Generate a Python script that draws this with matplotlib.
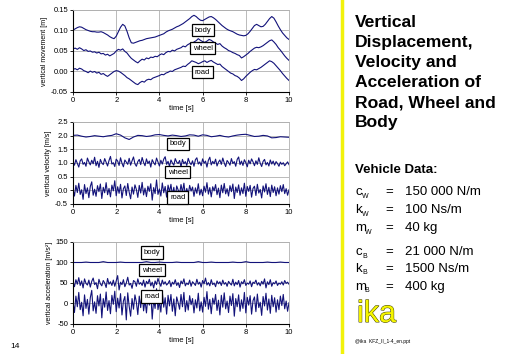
import matplotlib.pyplot as plt
import matplotlib.patheffects as pe
import numpy as np

plt.rcParams['font.family'] = ['Liberation Sans', 'DejaVu Sans']

# vertical displacement [m], sampled every 0.1 s
body_disp = [0.101, 0.104, 0.107, 0.109, 0.108, 0.105, 0.102, 0.100, 0.098, 0.097,
             0.097, 0.096, 0.096, 0.097, 0.095, 0.092, 0.089, 0.085, 0.082, 0.080,
             0.086, 0.097, 0.108, 0.115, 0.111, 0.098, 0.082, 0.070, 0.069, 0.071,
             0.073, 0.075, 0.076, 0.078, 0.080, 0.081, 0.082, 0.083, 0.084, 0.086,
             0.088, 0.090, 0.092, 0.096, 0.099, 0.101, 0.103, 0.106, 0.109, 0.111,
             0.114, 0.117, 0.121, 0.125, 0.129, 0.134, 0.137, 0.134, 0.129, 0.125,
             0.124, 0.127, 0.130, 0.133, 0.134, 0.131, 0.127, 0.122, 0.117, 0.112,
             0.108, 0.104, 0.101, 0.099, 0.097, 0.094, 0.091, 0.089, 0.088, 0.087,
             0.088, 0.092, 0.098, 0.105, 0.112, 0.115, 0.112, 0.109, 0.110, 0.115,
             0.122, 0.129, 0.134, 0.130, 0.121, 0.111, 0.102, 0.094, 0.088, 0.082,
             0.078]
wheel_disp = [0.055, 0.057, 0.054, 0.058, 0.055, 0.051, 0.053, 0.049, 0.050, 0.047,
              0.048, 0.045, 0.047, 0.043, 0.044, 0.040, 0.042, 0.038, 0.041, 0.044,
              0.050, 0.054, 0.052, 0.055, 0.049, 0.045, 0.038, 0.032, 0.028, 0.024,
              0.021, 0.026, 0.030, 0.028, 0.033, 0.031, 0.035, 0.034, 0.037, 0.036,
              0.040, 0.043, 0.041, 0.046, 0.049, 0.048, 0.052, 0.050, 0.054, 0.056,
              0.058, 0.062, 0.060, 0.065, 0.068, 0.067, 0.072, 0.075, 0.080, 0.076,
              0.073, 0.071, 0.074, 0.078, 0.076, 0.072, 0.069, 0.066, 0.068, 0.062,
              0.058, 0.055, 0.051, 0.049, 0.046, 0.044, 0.041, 0.039, 0.033, 0.036,
              0.040, 0.044, 0.049, 0.053, 0.057, 0.059, 0.058, 0.060, 0.063, 0.067,
              0.071, 0.075, 0.077, 0.072, 0.066, 0.058, 0.052, 0.045, 0.038, 0.032,
              0.027]
road_disp = [0.005, 0.007, 0.004, 0.008, 0.006, 0.002, 0.000, -0.003, 0.001, -0.002,
             0.000, -0.004, -0.002, -0.007, -0.005, -0.009, -0.012, -0.008, -0.004, 0.000,
             0.002, 0.001, -0.002, -0.006, -0.010, -0.015, -0.018, -0.022, -0.026, -0.030,
             -0.032, -0.027, -0.024, -0.026, -0.021, -0.019, -0.020, -0.016, -0.014, -0.012,
             -0.010, -0.007, -0.008, -0.004, -0.002, 0.001, 0.000, 0.004, 0.006, 0.008,
             0.010, 0.013, 0.012, 0.017, 0.021, 0.026, 0.024, 0.022, 0.019, 0.021,
             0.024, 0.026, 0.022, 0.025, 0.027, 0.023, 0.020, 0.017, 0.018, 0.012,
             0.008, 0.004, 0.000, -0.004, -0.006, -0.010, -0.012, -0.016, -0.022, -0.018,
             -0.012, -0.007, -0.002, 0.002, 0.005, 0.004, 0.007, 0.010, 0.014, 0.018,
             0.022, 0.026, 0.024, 0.020, 0.014, 0.008, 0.002, -0.005, -0.011, -0.017,
             -0.022]

# vertical velocity [m/s] (curves shifted for display)
body_vel = [2.01, 2.02, 1.98, 1.95, 1.97, 2.00, 1.98, 1.96, 1.99, 2.01,
            2.07, 2.02, 1.92, 1.86, 1.95, 2.01, 2.00, 1.97, 1.99, 2.03,
            2.04, 2.01, 1.99, 2.02, 2.00, 1.97, 1.99, 2.03, 2.02, 1.98,
            2.03, 2.01, 1.96, 1.98, 2.01, 1.97, 1.95, 1.99, 2.02, 2.04,
            2.05, 2.01, 1.97, 1.98, 2.01, 1.99, 1.92, 1.93, 1.96, 1.95, 1.94]
wheel_vel = [1.05, 0.92, 1.12, 0.98, 0.85, 1.08, 1.15, 0.95, 1.02, 0.88, 1.18, 1.04, 0.93, 1.10, 0.97, 1.21, 0.90, 1.06, 0.84, 1.13,
             1.00, 0.94, 1.16, 1.03, 0.89, 1.09, 1.24, 0.96, 1.01, 0.87, 1.14, 1.07, 0.91, 1.19, 0.99, 0.86, 1.11, 1.03, 0.95, 1.17,
             0.92, 1.08, 1.22, 0.97, 0.88, 1.05, 1.13, 0.94, 1.20, 1.02, 0.90, 1.15, 0.98, 1.07, 0.85, 1.12, 1.01, 0.93, 1.18, 1.04,
             0.89, 1.10, 0.96, 1.14, 1.23, 0.95, 1.06, 0.87, 1.11, 1.00, 0.92, 1.16, 1.03, 0.98, 1.09, 0.86, 1.13, 0.97, 1.05, 0.91,
             1.17, 1.02, 0.94, 1.08, 0.88, 1.12, 1.19, 0.96, 1.04, 0.90, 1.15, 0.99, 1.07, 0.85, 1.10, 1.21, 0.93, 1.06, 0.97, 1.14,
             0.89, 1.03, 1.11, 0.95, 1.18, 1.00, 0.87, 1.09, 1.02, 0.92, 1.16, 0.98, 1.05, 0.88, 1.13, 1.22, 0.94, 1.07, 0.91, 1.12,
             1.01, 0.86, 1.10, 0.97, 1.15, 1.04, 0.90, 1.08, 0.95, 1.19, 0.99, 0.87, 1.06, 1.13, 0.93, 1.02, 0.89, 1.11, 0.96, 1.07,
             0.92, 1.05, 0.98, 0.88, 1.03, 0.95, 1.01, 0.90, 0.97, 1.04, 0.94]
road_vel = [0.05, -0.21, 0.18, -0.08, 0.26, -0.15, 0.02, -0.33, 0.21, -0.12, 0.09, -0.27, 0.14, 0.31, -0.18, 0.04, -0.22, 0.17, -0.05, 0.23,
            -0.30, 0.11, -0.09, 0.28, -0.16, 0.07, -0.24, 0.19, -0.02, 0.35, -0.20, 0.13, -0.11, 0.22, -0.28, 0.06, 0.16, -0.19, 0.25, -0.07,
            -0.31, 0.12, -0.14, 0.20, 0.03, -0.26, 0.18, -0.10, 0.29, -0.17, 0.08, -0.23, 0.15, -0.04, 0.24, -0.36, 0.10, -0.12, 0.38, -0.15,
            0.05, -0.21, 0.27, -0.09, 0.14, -0.25, 0.19, -0.06, 0.22, -0.18, 0.11, -0.29, 0.16, 0.02, -0.13, 0.21, -0.08, 0.26, -0.19, 0.07,
            -0.15, 0.18, -0.03, 0.12, -0.22, 0.09, -0.11, 0.24, -0.17, 0.04, -0.20, 0.15, -0.07, 0.28, -0.14, 0.10, -0.24, 0.13, -0.02, 0.21,
            -0.16, 0.08, -0.27, 0.19, -0.09, 0.25, -0.13, 0.06, -0.21, 0.17, -0.05, 0.23, -0.30, 0.12, -0.08, 0.20, -0.18, 0.09, -0.12, 0.26,
            -0.22, 0.14, -0.04, 0.18, -0.25, 0.07, 0.15, -0.19, 0.22, -0.10, 0.03, -0.28, 0.16, -0.06, 0.24, -0.15, 0.11, -0.23, 0.19, -0.08,
            0.13, -0.20, 0.09, -0.14, 0.17, -0.05, 0.21, -0.12, 0.06, -0.18, 0.02]

# vertical acceleration [m/s^2] (curves shifted for display)
body_acc = [100, 100, 100, 101, 100, 100, 100, 102, 100, 100,
            100, 101, 100, 100, 100, 100, 100, 102, 100, 100,
            101, 100, 100, 100, 101, 100, 100, 100, 100, 102,
            100, 100, 101, 100, 100, 100, 100, 101, 100, 100,
            102, 100, 100, 100, 100, 101, 100, 100, 101, 100, 100]
wheel_acc = [52, 41, 58, 47, 63, 44, 55, 38, 60, 49, 45, 57, 40, 54, 62, 46, 51, 36, 59, 48,
             43, 56, 50, 39, 61, 47, 53, 44, 57, 42, 55, 68, 33, 52, 46, 58, 41, 50, 64, 45,
             49, 37, 56, 53, 42, 60, 47, 51, 44, 57, 40, 54, 48, 59, 43, 52, 38, 55, 46, 61,
             50, 42, 57, 47, 53, 45, 49, 56, 41, 52, 47, 58, 44, 51, 39, 55, 48, 60, 43, 50,
             46, 57, 42, 53, 49, 44, 59, 47, 52, 40, 56, 48, 62, 45, 51, 43, 58, 46, 50, 41,
             55, 48, 53, 44, 57, 47, 51, 42, 54, 49, 45, 59, 43, 52, 46, 56, 40, 53, 48, 58,
             44, 50, 47, 55, 41, 52, 49, 57, 45, 51, 43, 54, 47, 60, 38, 53, 46, 58, 42, 51,
             48, 55, 44, 50, 47, 53, 45, 56, 49, 52, 47]
road_acc = [5, -22, 18, -8, 27, -15, 3, -30, 21, -12, 10, -26, 14, 32, -18, 4, -24, 19, -6, 23,
            -35, 12, -9, 28, -17, 7, -25, 20, -2, 30, -20, 13, -11, 24, -28, 6, 17, -40, 26, -7,
            -31, 12, -14, 21, 3, -27, 18, -10, 29, -18, 8, -23, 16, -4, 25, -38, 10, -12, 36, -15,
            5, -21, 28, -9, 14, -26, 20, -6, 22, -19, 11, -30, 16, 2, -14, 22, -8, 27, -20, 7,
            -16, 19, -3, 12, -23, 9, -11, 25, -18, 4, -21, 15, -7, 29, -14, 10, -25, 13, -2, 22,
            -17, 8, -28, 20, -9, 26, -13, 6, -22, 18, -5, 24, -31, 12, -8, 21, -19, 9, -12, 27,
            -23, 15, -4, 19, -26, 7, 16, -20, 23, -10, 3, -29, 17, -6, 25, -16, 11, -24, 20, -8,
            14, -21, 9, -15, 18, -5, 22, -13, 6, -19, 2]

panels = [
    ('vertical movement [m]', [body_disp, wheel_disp, road_disp],
     (-0.05, 0.15), [0.15, 0.10, 0.05, 0.00, -0.05], '{:.2f}',
     [(6.0, 0.101), (6.0, 0.057), (6.0, -0.002)]),
    ('vertical velocity [m/s]', [body_vel, wheel_vel, road_vel],
     (-0.5, 2.5), [2.5, 2.0, 1.5, 1.0, 0.5, 0.0, -0.5], '{:.1f}',
     [(4.85, 1.70), (4.85, 0.67), (4.85, -0.26)]),
    ('vertical acceleration [m/s²]', [body_acc, wheel_acc, road_acc],
     (-50, 150), [150, 100, 50, 0, -50], '{:.0f}',
     [(3.65, 124), (3.65, 81), (3.65, 17)]),
]
names = ['body', 'wheel', 'road']
line_col = '#12127a'

fig = plt.figure(figsize=(5.12, 3.54), dpi=100)
tops = [0.9718, 0.6554, 0.3164]
for (ylab, series, ylim, yticks, fmt, boxes), top in zip(panels, tops):
    ax = fig.add_axes([0.1426, top - 0.2316, 0.4219, 0.2316])
    for s in series:
        t = np.linspace(0, 10, len(s))
        ax.plot(t, s, color=line_col, lw=0.8)
    ax.set_xlim(0, 10)
    ax.set_ylim(*ylim)
    ax.set_xticks(range(0, 11, 2))
    ax.set_yticks(yticks)
    ax.set_yticklabels([fmt.format(v) for v in yticks])
    ax.grid(True, color='#b0b0b0', lw=0.6)
    ax.tick_params(labelsize=5.5, length=2, width=0.6, pad=1.5)
    for side in ['top', 'right']:
        ax.spines[side].set_color('#b0b0b0')
        ax.spines[side].set_linewidth(0.6)
    for side in ['left', 'bottom']:
        ax.spines[side].set_linewidth(0.8)
    ax.set_xlabel('time [s]', fontsize=5.5, labelpad=1)
    ax.set_ylabel(ylab, fontsize=5, labelpad=2)
    for name, (bx, by) in zip(names, boxes):
        ax.text(bx, by, name, fontsize=5.5, ha='center', va='center',
                bbox=dict(boxstyle='square,pad=0.35', fc='white', ec='black', lw=0.9))

# right-hand slide text
fig.add_artist(plt.Line2D([342 / 512, 342 / 512], [0.005, 1.0], color='#f2f20a', lw=2.5))
fig.text(355 / 512, 1 - 15 / 354,
         'Vertical\nDisplacement,\nVelocity and\nAcceleration of\nRoad, Wheel and\nBody',
         fontsize=12.6, fontweight='bold', va='top', ha='left', linespacing=1.42)
fig.text(355 / 512, 1 - 170 / 354, 'Vehicle Data:', fontsize=9.5, fontweight='bold',
         va='center', ha='left')

symbols = ['c', 'k', 'm', 'c', 'k', 'm']
subs = ['W', 'W', 'W', 'B', 'B', 'B']
values = ['150 000 N/m', '100 Ns/m', '40 kg', '21 000 N/m', '1500 Ns/m', '400 kg']
rows_y = [192, 210, 228, 252, 269, 287]
for sym, sub, v, ry in zip(symbols, subs, values, rows_y):
    yy = 1 - ry / 354
    fig.text(355 / 512, yy, sym, fontsize=9.5, va='center', ha='left')
    sx = 362 / 512 if sym != 'm' else 364.5 / 512
    fig.text(sx, yy - 4 / 354, sub, fontsize=5, va='center', ha='left')
    fig.text(385 / 512, yy, '=', fontsize=9.5, va='center', ha='left')
    fig.text(405 / 512, yy, v, fontsize=9.5, va='center', ha='left')

fig.text(357 / 512, 1 - 314 / 354, 'ika', fontsize=22, color='#f5f500', va='center',
         ha='left', path_effects=[pe.withStroke(linewidth=0.7, foreground='#3a3a00')])
fig.text(355 / 512, 1 - 341 / 354, '@ika  KFZ_II_1-4_en.ppt', fontsize=3.5,
         va='center', ha='left')
fig.text(10 / 512, 1 - 346 / 354, '14', fontsize=6, va='center', ha='left')

fig.savefig('out.png', dpi=100)
